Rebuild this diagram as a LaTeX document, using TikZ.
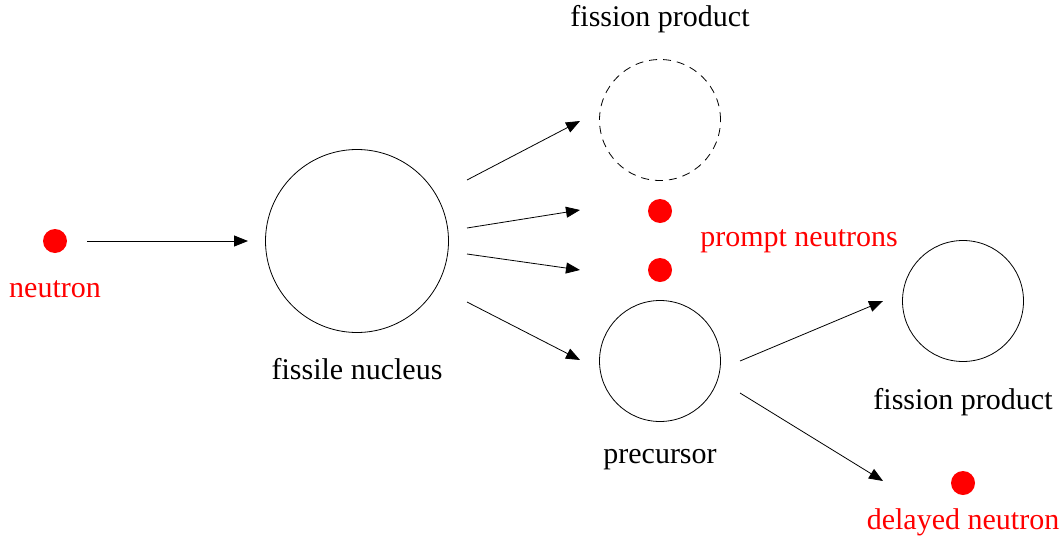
\documentclass[tikz,border=0pt]{standalone}
\usepackage{fontspec}
\setmainfont{Liberation Serif}
\usetikzlibrary{arrows.meta}
\begin{document}
\begin{tikzpicture}[x=1pt,y=-1pt,
  every node/.style={font=\rmfamily\fontsize{30}{36}\selectfont},
  nucleus/.style={circle,draw,line width=0.8pt,minimum size=#1,inner sep=0pt},
  particle/.style={circle,fill=red,minimum size=24pt,inner sep=0pt},
  lbl/.style={inner sep=0pt},
  rlbl/.style={inner sep=0pt,text=red},
  arr/.style={line width=0.8pt,-{Triangle[length=14pt,width=11pt]}}]
\useasboundingbox (0,0) rectangle (1064,538);
\node[particle] (n0) at (55,241) {};
\node[rlbl] (n0l) at (55,289) {neutron};
\node[nucleus=183pt] (fn) at (357,241) {};
\node[lbl] (fnl) at (357,369) {fissile nucleus};
\node[nucleus=121pt,dash pattern=on 8pt off 6pt] (fp1) at (660,120) {};
\node[lbl] (fp1l) at (660,19) {fission product};
\node[particle] (p1) at (660,211) {};
\node[particle] (p2) at (660,270) {};
\node[rlbl] (pl) at (799,241) {prompt neutrons};
\node[nucleus=121pt] (pc) at (660,361) {};
\node[lbl] (pcl) at (660,460) {precursor};
\node[nucleus=121pt] (fp2) at (963,301) {};
\node[lbl] (fp2l) at (963,402) {fission product};
\node[particle] (dn) at (963,483) {};
\node[rlbl] (dnl) at (963,522) {delayed neutron};
\coordinate (a0s) at (87,241); \coordinate (a0e) at (248,241);
\coordinate (a1s) at (467,180); \coordinate (a1e) at (580,121);
\coordinate (a2s) at (467,228); \coordinate (a2e) at (580,210);
\coordinate (a3s) at (467,254); \coordinate (a3e) at (580,270);
\coordinate (a4s) at (467,302); \coordinate (a4e) at (580,360);
\coordinate (a5s) at (740,361); \coordinate (a5e) at (883,301);
\coordinate (a6s) at (740,393); \coordinate (a6e) at (883,481);
\draw[arr] (a0s) -- (a0e);
\draw[arr] (a1s) -- (a1e);
\draw[arr] (a2s) -- (a2e);
\draw[arr] (a3s) -- (a3e);
\draw[arr] (a4s) -- (a4e);
\draw[arr] (a5s) -- (a5e);
\draw[arr] (a6s) -- (a6e);
\end{tikzpicture}
\end{document}
